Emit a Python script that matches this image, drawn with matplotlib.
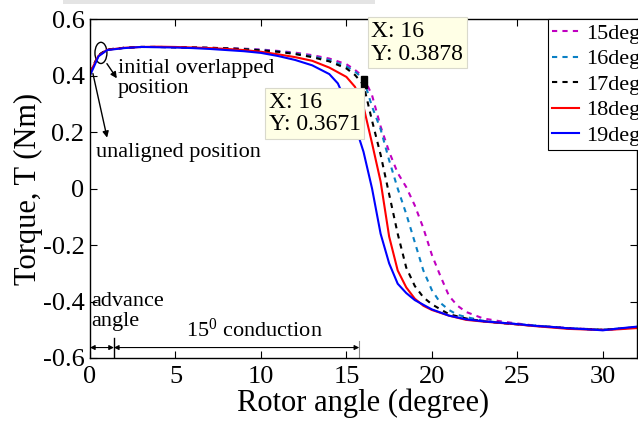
import matplotlib
matplotlib.use('Agg')
import matplotlib.pyplot as plt
from matplotlib.patches import Ellipse, Rectangle

plt.rcParams['font.family'] = 'serif'
plt.rcParams['font.serif'] = ['Liberation Serif', 'DejaVu Serif']
plt.rcParams['mathtext.fontset'] = 'custom'
plt.rcParams['mathtext.rm'] = 'Liberation Serif'

# rotor angle samples (degree) and torque (Nm)
x_15 = [0, 0.5, 1, 2, 3, 4, 5, 6, 7, 8, 9, 10, 11, 12, 13, 14, 15, 15.5, 16,
        16.5, 17, 17.5, 18, 18.5, 19, 19.5, 20, 20.5, 21, 21.5, 22, 23, 24,
        25, 26, 27, 28, 29, 30, 31, 32]
t_15 = [0.41, 0.472, 0.492, 0.498, 0.501, 0.501, 0.500, 0.499, 0.498, 0.497,
        0.495, 0.492, 0.487, 0.481, 0.472, 0.460, 0.440, 0.420, 0.395,
        0.330, 0.220, 0.130, 0.055, 0.005, -0.060, -0.140, -0.235, -0.310,
        -0.380, -0.415, -0.437, -0.460, -0.470, -0.478, -0.485, -0.490,
        -0.494, -0.497, -0.500, -0.497, -0.490]

x_16 = [0, 0.5, 1, 2, 3, 4, 5, 6, 7, 8, 9, 10, 11, 12, 13, 14, 15, 15.5, 16,
        16.5, 17, 17.5, 18, 18.5, 19, 19.5, 20, 20.5, 21, 21.5, 22, 23, 24,
        25, 26, 27, 28, 29, 30, 31, 32]
t_16 = [0.41, 0.472, 0.492, 0.498, 0.501, 0.501, 0.500, 0.499, 0.498, 0.496,
        0.494, 0.490, 0.485, 0.478, 0.468, 0.455, 0.432, 0.414, 0.3878,
        0.290, 0.210, 0.100, 0.000, -0.090, -0.190, -0.290, -0.360, -0.405,
        -0.430, -0.447, -0.455, -0.468, -0.475, -0.480, -0.485, -0.490,
        -0.495, -0.497, -0.499, -0.496, -0.490]

x_17 = [0, 0.5, 1, 2, 3, 4, 5, 6, 7, 8, 9, 10, 11, 12, 13, 14, 15, 15.5, 16,
        16.5, 17, 17.5, 18, 18.5, 19, 19.5, 20, 21, 22, 23, 24, 25, 26, 27,
        28, 29, 30, 31, 32]
t_17 = [0.41, 0.472, 0.492, 0.498, 0.501, 0.501, 0.500, 0.499, 0.498, 0.496,
        0.493, 0.489, 0.484, 0.476, 0.465, 0.450, 0.425, 0.402, 0.3671,
        0.240, 0.120, -0.020, -0.160, -0.280, -0.345, -0.385, -0.410, -0.445,
        -0.460, -0.470, -0.476, -0.481, -0.486, -0.490, -0.495, -0.498,
        -0.500, -0.496, -0.491]

x_18 = [0, 0.5, 1, 2, 3, 4, 5, 6, 7, 8, 9, 10, 11, 12, 13, 14, 15, 15.5, 16,
        16.5, 17, 17.5, 18, 18.5, 19, 19.5, 20, 21, 22, 23, 24, 25, 26, 27,
        28, 29, 30, 31, 32]
t_18 = [0.41, 0.470, 0.491, 0.498, 0.501, 0.502, 0.501, 0.499, 0.497, 0.494,
        0.490, 0.484, 0.475, 0.465, 0.452, 0.428, 0.395, 0.360, 0.290,
        0.160, 0.025, -0.170, -0.290, -0.350, -0.390, -0.415, -0.430,
        -0.450, -0.465, -0.471, -0.476, -0.481, -0.487, -0.492, -0.497,
        -0.499, -0.501, -0.498, -0.494]

x_19 = [0, 0.5, 1, 2, 3, 4, 5, 6, 7, 8, 9, 10, 11, 12, 13, 14, 14.5, 15,
        15.5, 16, 16.5, 17, 17.5, 18, 18.5, 19, 20, 21, 22, 23, 24, 25, 26,
        27, 28, 29, 30, 31, 32]
t_19 = [0.40, 0.468, 0.490, 0.497, 0.501, 0.500, 0.499, 0.497, 0.494, 0.490,
        0.486, 0.480, 0.469, 0.455, 0.436, 0.405, 0.372, 0.305, 0.225,
        0.130, 0.000, -0.160, -0.265, -0.337, -0.370, -0.395, -0.428,
        -0.450, -0.463, -0.470, -0.475, -0.480, -0.486, -0.490, -0.495,
        -0.498, -0.502, -0.495, -0.489]

labels = ['15deg', '16deg', '17deg', '18deg', '19deg']
colors = ['#c000c0', '#0a80c4', 'k', '#ff0000', '#0000ff']
styles = ['--', '--', '--', '-', '-']

tip_x = 16
tip_y = [0.3878, 0.3671]


fig = plt.figure(figsize=(6.38, 4.25), dpi=100)
ax = fig.add_axes([90 / 638, 1 - 358 / 425, 547 / 638, 339 / 425])

fig.patches.append(Rectangle((63 / 638, 1 - 4 / 425), 312 / 638, 4 / 425,
                             transform=fig.transFigure, fc='#e4e4e4',
                             ec='none'))

series = [(x_15, t_15), (x_16, t_16), (x_17, t_17), (x_18, t_18),
          (x_19, t_19)]
for (xs, ys), lab, c, ls in zip(series, labels, colors, styles):
    if ls == '--':
        ax.plot(xs, ys, color=c, lw=1.5, linestyle=(0, (2.5, 2.5)), label=lab)
    else:
        ax.plot(xs, ys, color=c, lw=1.5, label=lab)

ax.set_xlim(0, 32)
ax.set_ylim(-0.6, 0.6)
ax.set_xticks([0, 5, 10, 15, 20, 25, 30])
ax.set_yticks([-0.6, -0.4, -0.2, 0, 0.2, 0.4, 0.6])
ax.set_yticklabels(['-0.6', '-0.4', '-0.2', '0', '0.2', '0.4', '0.6'])
ax.tick_params(direction='in', top=True, right=True, labelsize=19,
               length=5, width=0.8)
ax.tick_params(axis='x', pad=6)
ax.tick_params(axis='y', pad=4)
for sp in ax.spines.values():
    sp.set_linewidth(1.0)

ax.set_xlabel('Rotor angle (degree)', fontsize=22, labelpad=0)
ax.set_ylabel('Torque, T (Nm)', fontsize=22, labelpad=0)

leg = ax.legend(loc='upper left', bbox_to_anchor=(0.837, 1.0),
                borderaxespad=0, fontsize=16, handlelength=1.2,
                handletextpad=0.3, labelspacing=0.22, borderpad=0.2,
                fancybox=False, framealpha=1, edgecolor='k')
leg.get_frame().set_linewidth(0.8)

# data tips
ax.plot([tip_x, tip_x], tip_y, 's', color='k', ms=4, zorder=5)
box = dict(boxstyle='square,pad=0.15', fc='#ffffe6', ec='#d9d9cc', lw=0.8)
ax.text(16.45, 0.593, 'X: 16\nY: 0.3878', fontsize=17, ha='left', va='top',
        bbox=box, linespacing=1.1, zorder=6, clip_on=False)
ax.text(10.45, 0.342, 'X: 16\nY: 0.3671', fontsize=17, ha='left', va='top',
        bbox=box, linespacing=1.1, zorder=6)

# position notes
ax.add_patch(Ellipse((0.64, 0.48), 0.7, 0.075, fill=False, ec='k', lw=1))
arr = dict(arrowstyle='-|>', color='k', lw=1, mutation_scale=9,
           shrinkA=0, shrinkB=0)
ax.annotate('', xy=(1.57, 0.39), xytext=(0.99, 0.442), arrowprops=arr)
ax.annotate('', xy=(1.0, 0.18), xytext=(0.17, 0.407), arrowprops=arr)
ax.text(1.63, 0.46, 'initial overlapped\nposition', fontsize=16,
        ha='left', va='top', linespacing=1.1)
ax.text(0.35, 0.127, 'unaligned position', fontsize=16, ha='left',
        va='center')

# advance angle and conduction span
ax.text(0.1, -0.365, 'advance\nangle', fontsize=16, ha='left', va='top',
        linespacing=1.1)
dbl = dict(arrowstyle='<|-|>', color='k', lw=0.8, mutation_scale=7,
           shrinkA=0, shrinkB=0)
ax.annotate('', xy=(1.4, -0.563), xytext=(0, -0.563), arrowprops=dbl)
ax.annotate('', xy=(15.75, -0.563), xytext=(1.4, -0.563), arrowprops=dbl)
ax.plot([1.4, 1.4], [-0.6, -0.53], color='k', lw=1)
ax.plot([15.75, 15.75], [-0.6, -0.54], color='#888888', lw=0.8)
ax.text(9.6, -0.5, r'$\mathregular{15^0}$ conduction', fontsize=16,
        ha='center', va='center')

fig.savefig('out.png', dpi=100)
